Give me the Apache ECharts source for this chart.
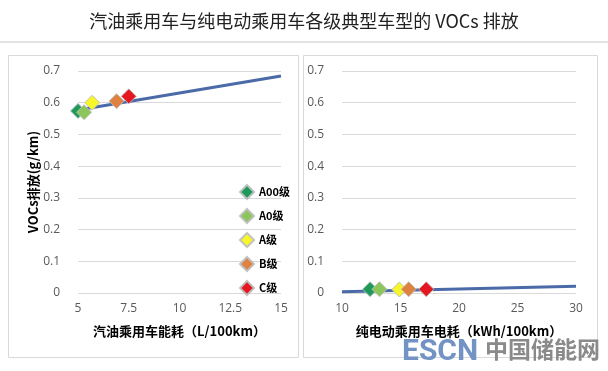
<!DOCTYPE html>
<html><head><meta charset="utf-8">
<script src="https://cdn.jsdelivr.net/npm/echarts@6/dist/echarts.min.js"></script>
<style>html,body{margin:0;padding:0;background:#fff}#c{width:608px;height:371px}</style>
</head><body><div id="c"></div>
<script>
const titleText = '汽油乘用车与纯电动乘用车各级典型车型的 VOCs 排放';
const grades = ['A00级', 'A0级', 'A级', 'B级', 'C级'];
const gradeColors = ['#1d9a5a', '#8cc65a', '#f6f62a', '#e0823f', '#e5171f'];
// gasoline: energy use (L/100km) and VOCs (g/km)
const gasEnergy = [5.0, 5.3, 5.7, 6.9, 7.5];
const gasVOCs = [0.574, 0.570, 0.600, 0.605, 0.620];
const gasTrendX = [5.0, 15.0];
const gasTrendY = [0.577, 0.684];
// electric: energy use (kWh/100km) and VOCs (g/km)
const evEnergy = [12.4, 13.2, 14.9, 15.7, 17.2];
const evVOCs = [0.012, 0.012, 0.011, 0.012, 0.012];
const evTrendX = [10, 30];
const evTrendY = [0.004, 0.021];
const yTicks = [0, 0.1, 0.2, 0.3, 0.4, 0.5, 0.6, 0.7];
const gasXTicks = [5, 7.5, 10, 12.5, 15];
const evXTicks = [10, 15, 20, 25, 30];

const labelFont = {color: '#595959', fontSize: 12, fontFamily: 'Open Sans'};
const nameFont = {color: '#000', fontSize: 13, fontWeight: 'bold', fontFamily: 'Noto Sans CJK SC'};

function yAxis(idx, withName) {
  return {
    type: 'value', gridIndex: idx, min: yTicks[0], max: yTicks[yTicks.length - 1], interval: 0.1,
    name: withName ? 'VOCs排放(g/km)' : '', nameLocation: 'middle', nameGap: 38, nameTextStyle: nameFont,
    axisLine: {show: false}, axisTick: {show: false},
    axisLabel: Object.assign({margin: 18, formatter: v => String(Math.round(v * 10) / 10)}, labelFont),
    splitLine: {lineStyle: {color: '#d9d9d9', width: 1}}
  };
}
function xAxis(idx, ticks, name) {
  return {
    type: 'value', gridIndex: idx, min: ticks[0], max: ticks[ticks.length - 1], interval: ticks[1] - ticks[0],
    name: name, nameLocation: 'middle', nameGap: 32, nameTextStyle: nameFont,
    axisLine: {show: false}, axisTick: {show: false},
    axisLabel: Object.assign({margin: 10}, labelFont), splitLine: {show: false}
  };
}

const series = [];
series.push({type: 'line', xAxisIndex: 0, yAxisIndex: 0, showSymbol: false, symbol: 'none', z: 2,
  lineStyle: {color: '#4a6aa8', width: 3}, data: gasTrendX.map((x, i) => [x, gasTrendY[i]])});
series.push({type: 'line', xAxisIndex: 1, yAxisIndex: 1, showSymbol: false, symbol: 'none', z: 2,
  lineStyle: {color: '#4a6aa8', width: 3}, data: evTrendX.map((x, i) => [x, evTrendY[i]])});
grades.forEach((g, i) => {
  const st = {color: gradeColors[i], borderColor: 'rgba(190,190,190,0.9)', borderWidth: 1, opacity: 1};
  series.push({type: 'scatter', name: g, xAxisIndex: 0, yAxisIndex: 0, symbol: 'diamond', symbolSize: 15, z: 3,
    itemStyle: st, data: [[gasEnergy[i], gasVOCs[i]]]});
  series.push({type: 'scatter', name: g, xAxisIndex: 1, yAxisIndex: 1, symbol: 'diamond', symbolSize: 15, z: 3,
    itemStyle: st, data: [[evEnergy[i], evVOCs[i]]]});
});

const chart = echarts.init(document.getElementById('c'), null, {renderer: 'canvas'});
chart.setOption({
  animation: false,
  backgroundColor: '#fff',
  title: {text: titleText, left: 'center', top: 7,
    textStyle: {fontSize: 18, fontWeight: 'normal', color: '#222', fontFamily: 'Noto Sans CJK SC'}},
  graphic: [
    {type: 'line', shape: {x1: 0, y1: 42, x2: 608, y2: 42}, style: {stroke: '#c8c8c8', lineWidth: 1}},
    {type: 'rect', shape: {x: 8.5, y: 55.5, width: 290, height: 302}, style: {fill: 'none', stroke: '#d9d9d9', lineWidth: 1}, z: -1},
    {type: 'rect', shape: {x: 303.5, y: 55.5, width: 294, height: 302}, style: {fill: 'none', stroke: '#d9d9d9', lineWidth: 1}, z: -1},
    {type: 'text', left: 402, top: 337, z: 100, style: {text: 'ESCN', fill: '#7393c4', font: 'bold 30px Roboto'}},
    {type: 'text', left: 485, top: 338, z: 100, style: {text: '中国储能网', fill: '#8a8a8a', font: 'bold 23px "Noto Sans CJK SC"'}}
  ],
  legend: {
    data: grades, orient: 'vertical', left: 234, top: 179, itemWidth: 14, itemHeight: 14, itemGap: 8,
    icon: 'diamond',
    textStyle: {fontSize: 11, fontWeight: 'bold', color: '#000', fontFamily: 'Noto Sans CJK SC'}
  },
  grid: [
    {left: 78, top: 71, width: 203, height: 222},
    {left: 342, top: 71, width: 234, height: 222}
  ],
  xAxis: [xAxis(0, gasXTicks, '汽油乘用车能耗（L/100km）'), xAxis(1, evXTicks, '纯电动乘用车电耗（kWh/100km）')],
  yAxis: [yAxis(0, true), yAxis(1, false)],
  series: series
});
</script></body></html>
